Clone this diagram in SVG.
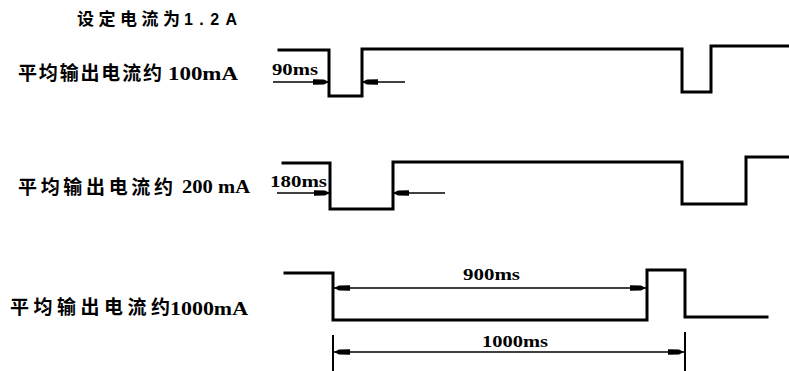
<svg xmlns="http://www.w3.org/2000/svg" width="789" height="371" viewBox="0 0 789 371">
<style>
.cjk{font-family:"Noto Sans CJK SC","Noto Sans CJK JP",sans-serif;font-weight:bold;fill:#000}
.lat{font-family:"Liberation Serif","DejaVu Serif",serif;font-weight:bold;fill:#000}
.sans{font-family:"Liberation Sans","DejaVu Sans",sans-serif;font-weight:bold;fill:#000}
.wave{fill:none;stroke:#000;stroke-width:3;stroke-linejoin:miter;stroke-linecap:square}
.dim{fill:none;stroke:#000;stroke-width:1.6}
.tick{fill:none;stroke:#000;stroke-width:2}
</style>
<defs>
<marker id="ah" markerUnits="userSpaceOnUse" markerWidth="18" markerHeight="8" refX="16" refY="3" orient="auto-start-reverse" viewBox="0 0 18 6">
<path d="M0,0.3 L11,0.5 L16,3 L11,5.5 L0,5.7 z" fill="#000"/>
</marker>
</defs>
<rect width="789" height="371" fill="#fff"/>

<g id="title">
<text class="cjk" x="77" y="25" font-size="17" textLength="103" lengthAdjust="spacing">设定电流为</text>
<text class="sans" x="184" y="25" font-size="16" textLength="53" lengthAdjust="spacing">1.2A</text>
</g>

<g id="label-100mA">
<text class="cjk" x="18" y="80" font-size="19" textLength="144" lengthAdjust="spacing">平均输出电流约</text>
<text class="lat" x="168" y="80" font-size="19" textLength="70" lengthAdjust="spacingAndGlyphs">100mA</text>
</g>
<g id="label-200mA">
<text class="cjk" x="18" y="194" font-size="19" textLength="155" lengthAdjust="spacing">平均输出电流约</text>
<text class="lat" x="182" y="193" font-size="19" textLength="68" lengthAdjust="spacingAndGlyphs">200 mA</text>
</g>
<g id="label-1000mA">
<text class="cjk" x="10" y="314" font-size="19" textLength="160" lengthAdjust="spacing">平均输出电流约</text>
<text class="lat" x="170" y="315" font-size="19" textLength="78" lengthAdjust="spacingAndGlyphs">1000mA</text>
</g>

<g id="wave-100mA">
<path class="wave" d="M279,50 H329 V96 H362 V49 H682 V92 H711 V46 H789"/>
</g>
<g id="wave-200mA">
<path class="wave" d="M283,163 H330 V209 H393 V162 H682 V204 H746 V157 H789"/>
</g>
<g id="wave-1000mA">
<path class="wave" d="M285,273 H333 V320 H647 V270 H685 V317 H767"/>
</g>

<g id="connectors">
<line class="dim" x1="273" y1="82" x2="329" y2="82" marker-end="url(#ah)"/>
<line class="dim" x1="405" y1="82" x2="362" y2="82" marker-end="url(#ah)"/>
<line class="dim" x1="277" y1="193" x2="330" y2="193" marker-end="url(#ah)"/>
<line class="dim" x1="445" y1="193" x2="393" y2="193" marker-end="url(#ah)"/>
<line class="dim" x1="334" y1="288" x2="646" y2="288" marker-start="url(#ah)" marker-end="url(#ah)"/>
<line class="tick" x1="333" y1="335" x2="333" y2="371"/>
<line class="tick" x1="685" y1="332" x2="685" y2="371"/>
<line class="dim" x1="334" y1="352" x2="684" y2="352" marker-start="url(#ah)" marker-end="url(#ah)"/>
</g>

<g id="dim-labels">
<text class="lat" x="272" y="75" font-size="17" textLength="46" lengthAdjust="spacingAndGlyphs">90ms</text>
<text class="lat" x="270" y="187" font-size="17" textLength="57" lengthAdjust="spacingAndGlyphs">180ms</text>
<text class="lat" x="463" y="280" font-size="17" textLength="57" lengthAdjust="spacingAndGlyphs">900ms</text>
<text class="lat" x="482" y="347" font-size="17" textLength="66" lengthAdjust="spacingAndGlyphs">1000ms</text>
</g>
</svg>
